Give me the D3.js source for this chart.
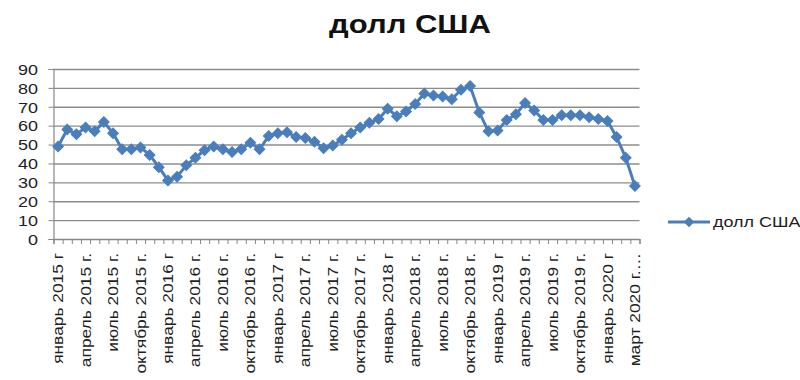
<!DOCTYPE html>
<html>
<head>
<meta charset="utf-8">
<script src="https://cdn.jsdelivr.net/npm/d3@7"></script>
<style>
  html, body { margin: 0; background: #ffffff; }
  svg { display: block; }
</style>
</head>
<body>
<svg id="chart" width="800" height="380"></svg>
<script>
// ---- data ----
const title = "долл США";
const seriesName = "долл США";

// category labels, one per every third month
const tickLabels = [
  "январь 2015 г", "апрель 2015 г.", "июль 2015 г.", "октябрь 2015 г.",
  "январь 2016 г", "апрель 2016 г.", "июль 2016 г.", "октябрь 2016 г.",
  "январь 2017 г", "апрель 2017 г.", "июль 2017 г.", "октябрь 2017 г.",
  "январь 2018 г", "апрель 2018 г.", "июль 2018 г.", "октябрь 2018 г.",
  "январь 2019 г", "апрель 2019 г.", "июль 2019 г.", "октябрь 2019 г.",
  "январь 2020 г", "март 2020 г.…"
];
const labelEvery = 3;

// monthly values
const values = [
  49, 58, 55.5, 59, 57, 62, 56, 47.5, 47.5, 48.5, 44.5, 38,
  31, 33, 39, 43, 47, 49, 47.5, 46, 47.5, 51, 47.5, 54.5,
  56, 56.5, 54, 53.5, 51.5, 48, 49.5, 52.5, 56, 59, 61.5, 63.5,
  69, 65, 67.5, 71.5, 77, 76, 75.5, 74, 79, 81, 67, 57,
  57.5, 63, 66, 72, 68, 63, 63, 65.5, 65.5, 65.5, 64.5, 63.5,
  62.5, 54, 43, 28
];

const yTicks = [0, 10, 20, 30, 40, 50, 60, 70, 80, 90];

// ---- layout ----
const plot = { left: 53.5, right: 639.5, top: 69, bottom: 239 };
const font = "'Liberation Sans', Arial, sans-serif";
const textColor = "#1e1e1e";
const axisColor = "#878787";
const seriesColor = "#4a7ebb";
const stretch = 1.24; // glyphs are drawn slightly widened along the text direction

const svg = d3.select("#chart");

const categories = d3.range(values.length);
const x = d3.scaleBand().domain(categories).range([plot.left, plot.right]);
const xEdge = d3.scaleLinear().domain([0, values.length]).range([plot.left, plot.right]);
const y = d3.scaleLinear().domain([0, 90]).range([plot.bottom, plot.top]);
const cx = i => x(i) + x.bandwidth() / 2;

// title
svg.append("text")
  .attr("transform", `translate(410,33) scale(${stretch},1)`)
  .attr("text-anchor", "middle")
  .attr("font-family", font)
  .attr("font-weight", "bold")
  .attr("font-size", 25)
  .attr("fill", "#111")
  .text(title);

// horizontal gridlines
svg.append("g")
  .attr("transform", `translate(${plot.left},0)`)
  .call(d3.axisLeft(y).tickValues(yTicks).tickSize(-(plot.right - plot.left)).tickFormat(""))
  .call(g => g.select(".domain").remove())
  .call(g => g.selectAll("line").attr("stroke", "#8c8c8c").attr("stroke-width", 1.4));

// y axis
svg.append("g")
  .attr("transform", `translate(${plot.left},0)`)
  .call(d3.axisLeft(y).tickValues(yTicks).tickSize(5))
  .call(g => g.select(".domain").attr("stroke", axisColor).attr("stroke-width", 1.2))
  .call(g => g.selectAll("line").attr("stroke", axisColor))
  .call(g => g.selectAll("text")
    .attr("x", null)
    .attr("transform", `translate(-15.5,0) scale(${stretch},1)`)
    .attr("text-anchor", "end")
    .attr("dy", "0.36em")
    .attr("font-family", font)
    .attr("font-size", 14.5)
    .attr("fill", textColor));

// x axis with a tick at every category boundary
svg.append("g")
  .attr("transform", `translate(0,${plot.bottom})`)
  .call(d3.axisBottom(xEdge).tickValues(d3.range(values.length + 1)).tickSize(5).tickFormat(""))
  .call(g => g.select(".domain").attr("stroke", axisColor).attr("stroke-width", 1.2))
  .call(g => g.selectAll("line").attr("stroke", axisColor));

// rotated category labels
svg.append("g")
  .attr("transform", `translate(0,${plot.bottom})`)
  .call(d3.axisBottom(x)
    .tickValues(categories.filter(i => i % labelEvery === 0))
    .tickFormat(i => tickLabels[i / labelEvery])
    .tickSize(0))
  .call(g => g.select(".domain").remove())
  .call(g => g.selectAll("text")
    .attr("x", 0).attr("y", 0)
    .attr("transform", `translate(0,14) rotate(-90) scale(${stretch},1)`)
    .attr("text-anchor", "end")
    .attr("dy", "0.36em")
    .attr("font-family", font)
    .attr("font-size", 14)
    .attr("fill", textColor));

// series line
const line = d3.line().x((d, i) => cx(i)).y(d => y(d));
svg.append("path")
  .datum(values)
  .attr("d", line)
  .attr("fill", "none")
  .attr("stroke", seriesColor)
  .attr("stroke-width", 3)
  .attr("stroke-linejoin", "round");

// diamond markers
const diamond = d3.symbol().type(d3.symbolSquare).size(56);
svg.append("g")
  .selectAll("path")
  .data(values)
  .join("path")
  .attr("d", diamond)
  .attr("transform", (d, i) => `translate(${cx(i)},${y(d)}) rotate(45)`)
  .attr("fill", seriesColor)
  .attr("stroke", seriesColor)
  .attr("stroke-width", 1);

// legend
const legend = svg.append("g").attr("transform", "translate(668,222)");
legend.append("line")
  .attr("x1", 0).attr("x2", 42).attr("y1", 0).attr("y2", 0)
  .attr("stroke", seriesColor).attr("stroke-width", 3);
legend.append("path")
  .attr("d", diamond)
  .attr("transform", "translate(21,0) rotate(45)")
  .attr("fill", seriesColor);
legend.append("text")
  .attr("transform", `translate(45,5.2) scale(${stretch},1)`)
  .attr("font-family", font)
  .attr("font-size", 14.5)
  .attr("fill", textColor)
  .text(seriesName);
</script>
</body>
</html>
